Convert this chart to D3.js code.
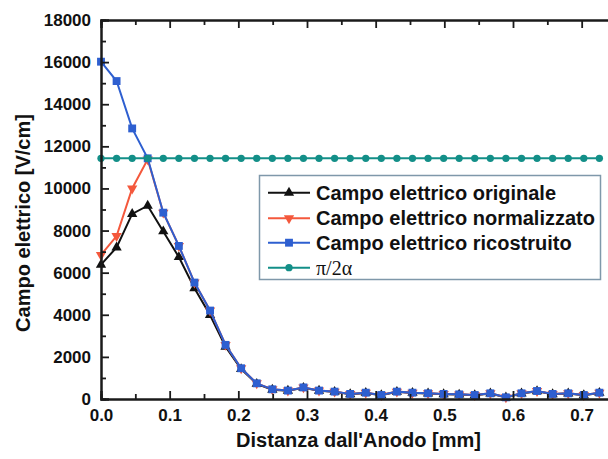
<!DOCTYPE html>
<html>
<head>
<meta charset="utf-8">
<script src="https://cdn.jsdelivr.net/npm/d3@7"></script>
<style>
  html, body { margin: 0; padding: 0; background: #fff; }
  svg { display: block; }
</style>
</head>
<body>
<svg id="chart" width="608" height="459"></svg>
<script>
// Distance from the anode [mm]
const distance = [0, 0.0227, 0.0454, 0.0680, 0.0907, 0.1134, 0.1361, 0.1588, 0.1814, 0.2041,
  0.2268, 0.2495, 0.2722, 0.2948, 0.3175, 0.3402, 0.3629, 0.3856, 0.4082, 0.4309,
  0.4536, 0.4763, 0.4990, 0.5216, 0.5443, 0.5670, 0.5897, 0.6124, 0.6350, 0.6577,
  0.6804, 0.7031, 0.7258];

// Electric field [V/cm]
const originale = [6380, 7200, 8790, 9180, 7960, 6740, 5260, 3990, 2480, 1420,
  720, 440, 390, 530, 390, 340, 230, 290, 180, 340,
  290, 260, 230, 210, 180, 260, 70, 260, 370, 230,
  260, 180, 290];
const normalizzato = [6840, 7740, 10000, 11380, 8850, 7270, 5530, 4200, 2570, 1460,
  745, 460, 400, 550, 400, 350, 240, 300, 190, 350,
  300, 270, 240, 220, 190, 270, 80, 270, 380, 240,
  270, 190, 300];
const ricostruito = [16020, 15100, 12850, 11430, 8850, 7270, 5530, 4200, 2570, 1460,
  745, 460, 400, 550, 400, 350, 240, 300, 190, 350,
  300, 270, 240, 220, 190, 270, 80, 270, 380, 240,
  270, 190, 300];
const soglia = [11430, 11430, 11430, 11430, 11430, 11430, 11430, 11430, 11430, 11430,
  11430, 11430, 11430, 11430, 11430, 11430, 11430, 11430, 11430, 11430,
  11430, 11430, 11430, 11430, 11430, 11430, 11430, 11430, 11430, 11430,
  11430, 11430, 11430];

const xTicks = [0, 0.1, 0.2, 0.3, 0.4, 0.5, 0.6, 0.7];
const yTicks = [0, 2000, 4000, 6000, 8000, 10000, 12000, 14000, 16000, 18000];

const seriesNames = ["Campo elettrico originale", "Campo elettrico normalizzato",
  "Campo elettrico ricostruito", "π/2α"];

const sans = "'Liberation Sans', Arial, sans-serif";
const serif = "'Liberation Serif', 'Times New Roman', serif";

const svg = d3.select("#chart");
const plotLeft = 101, plotRight = 616, plotTop = 20, plotBottom = 399;

const x = d3.scaleLinear().domain([0, 0.75]).range([plotLeft, plotRight]);
const y = d3.scaleLinear().domain([0, 18000]).range([plotBottom, plotTop]);

const series = [
  { name: seriesNames[0], values: originale, color: "#111111", marker: "triangle" },
  { name: seriesNames[1], values: normalizzato, color: "#f4583c", marker: "down" },
  { name: seriesNames[2], values: ricostruito, color: "#2e5fd0", marker: "square" },
  { name: seriesNames[3], values: soglia, color: "#138f88", marker: "circle" }
];

function markerPath(kind) {
  if (kind === "triangle") return d3.symbol(d3.symbolTriangle, 46)();
  if (kind === "down") return d3.symbol(d3.symbolTriangle, 46)();
  if (kind === "square") return d3.symbol(d3.symbolSquare, 62)();
  return d3.symbol(d3.symbolCircle, 42)();
}

const plot = svg.append("g");

// Series lines and markers
const line = d3.line().x((d, i) => x(distance[i])).y(d => y(d));
series.forEach(s => {
  plot.append("path")
    .datum(s.values)
    .attr("d", line)
    .attr("fill", "none")
    .attr("stroke", s.color)
    .attr("stroke-width", 2);
  plot.selectAll(null)
    .data(s.values)
    .enter()
    .append("path")
    .attr("d", markerPath(s.marker))
    .attr("transform", (d, i) => `translate(${x(distance[i])},${y(d)})` + (s.marker === "down" ? " rotate(180)" : ""))
    .attr("fill", s.color);
});

// Axes: ticks point into the plot on every side
const axisColor = "#1a1a1a";
const xMinor = d3.range(0.05, 0.75, 0.1);
const yMinor = d3.range(1000, 18000, 2000);

const bottomAxis = svg.append("g").attr("transform", `translate(0,${plotBottom})`)
  .call(d3.axisBottom(x).tickValues(xTicks).tickSize(-8).tickPadding(10).tickFormat(d3.format(".1f")));
const bottomMinor = svg.append("g").attr("transform", `translate(0,${plotBottom})`)
  .call(d3.axisBottom(x).tickValues(xMinor).tickSize(-5).tickFormat(""));
const topAxis = svg.append("g").attr("transform", `translate(0,${plotTop})`)
  .call(d3.axisTop(x).tickValues(xTicks).tickSize(-8).tickFormat(""));
const topMinor = svg.append("g").attr("transform", `translate(0,${plotTop})`)
  .call(d3.axisTop(x).tickValues(xMinor).tickSize(-5).tickFormat(""));
const leftAxis = svg.append("g").attr("transform", `translate(${plotLeft},0)`)
  .call(d3.axisLeft(y).tickValues(yTicks).tickSize(-8).tickPadding(10).tickFormat(d3.format("d")));
const leftMinor = svg.append("g").attr("transform", `translate(${plotLeft},0)`)
  .call(d3.axisLeft(y).tickValues(yMinor).tickSize(-5).tickFormat(""));
const rightAxis = svg.append("g").attr("transform", `translate(${plotRight},0)`)
  .call(d3.axisRight(y).tickValues(yTicks).tickSize(-8).tickFormat(""));

[bottomAxis, bottomMinor, topAxis, topMinor, leftAxis, leftMinor, rightAxis].forEach(g => {
  g.select(".domain").attr("stroke", axisColor).attr("stroke-width", 2);
  g.selectAll(".tick line").attr("stroke", axisColor).attr("stroke-width", 1.8);
  g.selectAll("text").attr("font-size", 17).attr("fill", "#111")
    .attr("font-family", sans).attr("font-weight", "bold");
});

// Axis titles
svg.append("text")
  .attr("x", (plotLeft + plotRight) / 2).attr("y", 447)
  .attr("text-anchor", "middle").attr("font-size", 20)
  .attr("font-family", sans).attr("font-weight", "bold").attr("fill", "#111")
  .text("Distanza dall'Anodo [mm]");
svg.append("text")
  .attr("transform", "translate(30,223) rotate(-90)")
  .attr("text-anchor", "middle").attr("font-size", 20)
  .attr("font-family", sans).attr("font-weight", "bold").attr("fill", "#111")
  .text("Campo elettrico [V/cm]");

// Legend
const legend = svg.append("g");
legend.append("rect")
  .attr("x", 259.5).attr("y", 175.5).attr("width", 341).attr("height", 104)
  .attr("fill", "#fff").attr("stroke", "#7f98aa").attr("stroke-width", 1.5);
const rowY = [192.7, 218.3, 242.7, 267.7];
series.forEach((s, i) => {
  const g = legend.append("g").attr("transform", `translate(0,${rowY[i]})`);
  g.append("line").attr("x1", 268).attr("x2", 310).attr("y1", 0).attr("y2", 0)
    .attr("stroke", s.color).attr("stroke-width", 2);
  g.append("path").attr("d", markerPath(s.marker))
    .attr("transform", `translate(289,0)` + (s.marker === "down" ? " rotate(180)" : ""))
    .attr("fill", s.color);
  g.append("text").attr("x", 316).attr("y", 7).attr("font-size", 20)
    .attr("font-family", i === 3 ? serif : sans)
    .attr("font-weight", i === 3 ? "normal" : "bold")
    .attr("fill", "#111")
    .text(s.name);
});
</script>
</body>
</html>
